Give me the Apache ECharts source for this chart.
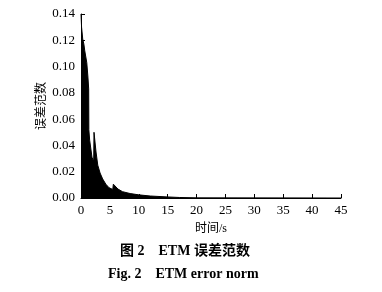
<!DOCTYPE html>
<html>
<head>
<meta charset="utf-8">
<script src="https://cdn.jsdelivr.net/npm/echarts@6/dist/echarts.min.js"></script>
<style>
html,body{margin:0;padding:0;background:#fff;}
#chart{width:382px;height:292px;}
</style>
</head>
<body>
<div id="chart"></div>
<script>
// Time (s) and ETM error norm envelope
const timeS = [0, 0.1, 0.3, 0.5, 0.65, 1.0, 1.2, 1.33, 1.36, 1.5, 1.9, 2.2, 2.25, 2.6, 2.9, 3.3, 3.75, 4.3, 4.85, 5.5, 5.6, 6.4, 7.2, 8.5, 10, 12, 15, 17, 20, 45];
const errNorm = [0.14, 0.13, 0.121, 0.117, 0.112, 0.103, 0.092, 0.083, 0.052, 0.044, 0.031, 0.028, 0.050, 0.035, 0.025, 0.019, 0.0145, 0.0105, 0.0078, 0.0065, 0.0105, 0.0068, 0.0048, 0.0034, 0.0024, 0.0015, 0.0008, 0.0004, 0.0001, 0];
const xTicks = [0, 5, 10, 15, 20, 25, 30, 35, 40, 45];
const yTicks = [0, 0.02, 0.04, 0.06, 0.08, 0.10, 0.12, 0.14];
const xTitle = '时间/s';
const yTitle = '误差范数';
const captionCn = '图 2    ETM 误差范数';
const captionEn = 'Fig. 2    ETM error norm';

const serif = '"Liberation Serif", "Times New Roman", serif';
const cjk = '"Liberation Serif", "Noto Sans CJK SC", serif';

const chart = echarts.init(document.getElementById('chart'));
chart.setOption({
  animation: false,
  backgroundColor: '#fff',
  grid: {left: 81, top: 14, right: 41, bottom: 94, containLabel: false},
  xAxis: {
    type: 'value', min: 0, max: 45, interval: 5,
    name: xTitle, nameLocation: 'middle', nameGap: 25, nameMoveOverlap: false,
    nameTextStyle: {fontFamily: cjk, fontSize: 12, color: '#000'},
    axisLine: {lineStyle: {color: '#000', width: 1}},
    axisTick: {inside: true, length: 4, lineStyle: {color: '#000'}},
    axisLabel: {fontFamily: serif, fontSize: 13, color: '#000', margin: 6,
      formatter: v => xTicks.includes(v) ? String(v) : ''},
    splitLine: {show: false}
  },
  yAxis: {
    type: 'value', min: 0, max: 0.14, interval: 0.02,
    name: yTitle, nameLocation: 'middle', nameGap: 33, nameMoveOverlap: false,
    nameTextStyle: {fontFamily: cjk, fontSize: 12, color: '#000'},
    axisLine: {show: true, lineStyle: {color: '#000', width: 1}},
    axisTick: {show: true, inside: true, length: 4, lineStyle: {color: '#000'}},
    axisLabel: {fontFamily: serif, fontSize: 13, color: '#000', margin: 6,
      formatter: v => { const t = yTicks.find(k => Math.abs(k - v) < 1e-9); return t === undefined ? '' : t.toFixed(2); }},
    splitLine: {show: false}
  },
  series: [{
    type: 'line',
    data: timeS.map((t, i) => [t, errNorm[i]]),
    symbol: 'none',
    lineStyle: {color: '#000', width: 1},
    areaStyle: {color: '#000', opacity: 1},
    silent: true
  }],
  graphic: [
    {type: 'text', left: 120, top: 244,
     style: {text: captionCn, font: 'bold 14px "Liberation Serif", "Noto Sans CJK SC", serif', fill: '#000'}},
    {type: 'text', left: 108, top: 267,
     style: {text: captionEn, font: 'bold 14px "Liberation Serif", serif', fill: '#000'}}
  ]
});
</script>
</body>
</html>
